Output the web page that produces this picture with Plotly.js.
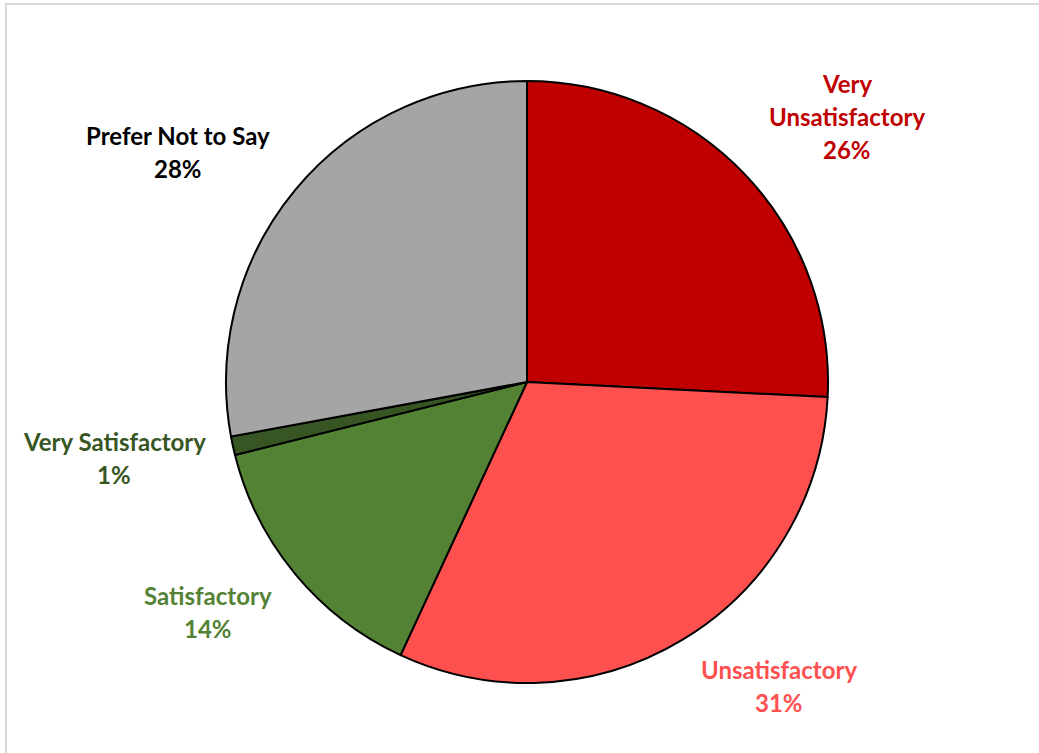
<!DOCTYPE html>
<html>
<head>
<meta charset="utf-8">
<script src="https://cdn.plot.ly/plotly-3.0.1.min.js"></script>
<style>html,body{margin:0;padding:0;background:#fff;}#chart{width:1039px;height:753px;}</style>
</head>
<body>
<div id="chart"></div>
<script>
// Data
const categories = ["Very Unsatisfactory", "Unsatisfactory", "Satisfactory", "Very Satisfactory", "Prefer Not to Say"];
const values = [25.8, 31.1, 14.2, 1.0, 27.9];
const displayLabels = ["Very<br>Unsatisfactory", "Unsatisfactory", "Satisfactory", "Very Satisfactory", "Prefer Not to Say"];
const sliceColors = ["#C00000", "#FF5050", "#548235", "#375623", "#A5A5A5"];
const labelColors = ["#C00000", "#FF5050", "#548235", "#375623", "#000000"];
// label anchor (top line centre) in pixels
const labelPos = [[847, 83], [779, 669], [208, 595], [114, 441], [178, 135]];

const W = 1039, H = 753;
const cx = 527, cy = 382, R = 301;
const total = values.reduce((a, b) => a + b, 0);

const annotations = [];
categories.forEach((c, i) => {
  const lines = displayLabels[i].split('<br>').concat([Math.round(values[i] / total * 100) + '%']);
  lines.forEach((ln, j) => {
    annotations.push({
      xref: 'paper', yref: 'paper',
      x: labelPos[i][0] / W, y: 1 - labelPos[i][1] / H,
      xanchor: 'center', yanchor: 'middle',
      yshift: -33 * j,
      text: '<b>' + ln + '</b>',
      showarrow: false,
      font: {family: 'Lato, "Open Sans", sans-serif', size: 24, color: labelColors[i]}
    });
  });
});

const trace = {
  type: 'pie',
  labels: categories,
  values: values,
  sort: false,
  direction: 'clockwise',
  rotation: 0,
  textinfo: 'none',
  hoverinfo: 'label+percent',
  marker: {colors: sliceColors, line: {color: '#000000', width: 2}},
  domain: {x: [(cx - R) / W, (cx + R) / W], y: [1 - (cy + R) / H, 1 - (cy - R) / H]},
  showlegend: false
};

const layout = {
  width: W, height: H,
  margin: {l: 0, r: 0, t: 0, b: 0},
  paper_bgcolor: '#ffffff',
  showlegend: false,
  annotations: annotations,
  shapes: [{
    type: 'rect', xref: 'paper', yref: 'paper',
    x0: 6 / W, x1: 1.05, y0: -0.05, y1: 1 - 4 / H,
    line: {color: '#D9D9D9', width: 2}, fillcolor: 'rgba(0,0,0,0)', layer: 'below'
  }]
};

Plotly.newPlot('chart', [trace], layout, {displayModeBar: false});
</script>
</body>
</html>
